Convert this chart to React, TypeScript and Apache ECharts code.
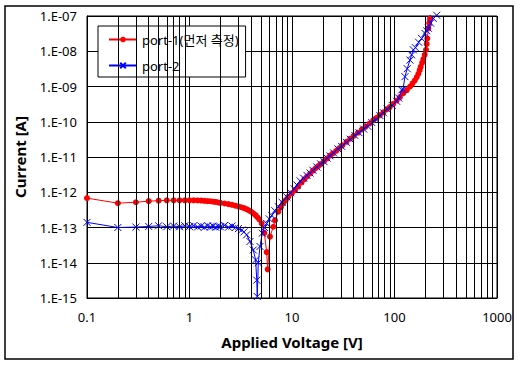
import React, { useEffect, useRef } from "react";
import * as echarts from "echarts";

// Tick labels
const xTickLabels = ["0.1", "1", "10", "100", "1000"];
const yTickLabels = ["1.E-15", "1.E-14", "1.E-13", "1.E-12", "1.E-11", "1.E-10", "1.E-09", "1.E-08", "1.E-07"];

// port-1 (measured first)
const port1Voltage = [
  0.1, 0.2, 0.3, 0.4, 0.5, 0.6, 0.7, 0.8, 0.9, 1.0, 1.1, 1.2, 1.3, 1.4, 1.5, 1.6, 1.7, 1.8, 1.9, 2.0,
  2.2, 2.4, 2.6, 2.8, 3.0, 3.2, 3.4, 3.6, 3.8, 4.0, 4.2, 4.4, 4.6, 4.8, 5.06, 5.37, 5.66, 5.79, 6.1,
  6.57, 6.83, 7.35, 7.8, 8.2, 8.7, 9.2, 10.0, 10.7, 11.5, 12.4, 13.2, 14, 15, 16, 17, 18, 19, 20.5, 22,
  23.5, 25, 27, 29, 31, 34, 37, 40, 44, 48, 52, 57, 62, 67, 72, 78, 84, 90, 97, 105, 113, 122, 132,
  142, 150, 158, 165, 171, 176, 180, 186, 191, 197, 203, 206, 209, 214, 218, 222,
];
const port1Current = [
  6.8e-13, 4.9e-13, 5.2e-13, 5.6e-13, 5.75e-13, 5.9e-13, 5.9e-13, 5.9e-13, 5.9e-13, 5.9e-13, 5.9e-13,
  5.85e-13, 5.8e-13, 5.7e-13, 5.6e-13, 5.55e-13, 5.4e-13, 5.3e-13, 5.15e-13, 5.0e-13, 4.8e-13, 4.6e-13,
  4.4e-13, 4.15e-13, 3.95e-13, 3.75e-13, 3.55e-13, 3.3e-13, 3.05e-13, 2.8e-13, 2.5e-13, 2.25e-13,
  1.95e-13, 1.7e-13, 1.3e-13, 7e-14, 2.0e-14, 6.5e-15, 5.5e-14, 1.05e-13, 1.6e-13, 2.8e-13, 3.8e-13,
  4.9e-13, 6.0e-13, 7.4e-13, 9.5e-13, 1.15e-12, 1.45e-12, 1.9e-12, 2.35e-12, 2.8e-12, 3.4e-12, 4.1e-12,
  4.8e-12, 5.5e-12, 6.3e-12, 7.6e-12, 9.1e-12, 1.1e-11, 1.26e-11, 1.5e-11, 1.8e-11, 2.15e-11, 2.7e-11,
  3.3e-11, 4.0e-11, 4.9e-11, 6.0e-11, 7.2e-11, 8.9e-11, 1.1e-10, 1.3e-10, 1.55e-10, 1.85e-10, 2.25e-10,
  2.6e-10, 3.2e-10, 4.0e-10, 5.0e-10, 6.5e-10, 7.9e-10, 1.0e-9, 1.23e-9, 1.5e-9, 1.85e-9, 2.3e-9,
  2.9e-9, 3.6e-9, 4.7e-9, 6.0e-9, 7.9e-9, 1.1e-8, 1.6e-8, 2.3e-8, 4.5e-8, 6.3e-8, 8.5e-8,
];

// port-2
const port2Voltage = [
  0.1, 0.2, 0.3, 0.4, 0.5, 0.6, 0.7, 0.8, 0.9, 1.0, 1.1, 1.2, 1.3, 1.4, 1.5, 1.6, 1.7, 1.8, 1.9, 2.0,
  2.2, 2.4, 2.6, 2.8, 3.0, 3.23, 3.4, 3.61, 3.89, 4.19, 4.42, 4.53, 4.58, 4.69, 4.87, 5.13, 5.4, 5.66,
  6.0, 6.34, 6.8, 7.35, 8.0, 8.9, 9.7, 10.5, 11.2, 12, 13, 14, 15, 16, 17.5, 19, 20.5, 22, 23.5, 25.5,
  28, 30.5, 34, 37, 41, 45, 50, 55, 60, 66, 72, 78, 85, 95, 105, 110, 117.5, 121, 126.5, 133, 141.6,
  147, 152.5, 160, 172, 184, 198.5, 206, 214, 225, 239, 258,
];
const port2Current = [
  1.4e-13, 1.0e-13, 1.03e-13, 1.07e-13, 1.12e-13, 1.05e-13, 1.1e-13, 1.05e-13, 1.12e-13, 1.06e-13,
  1.13e-13, 1.04e-13, 1.1e-13, 1.02e-13, 1.12e-13, 1.04e-13, 1.1e-13, 1.02e-13, 1.08e-13, 1.05e-13,
  1.15e-13, 1.02e-13, 1.1e-13, 1.0e-13, 9.3e-14, 8.5e-14, 7.5e-14, 6.2e-14, 4.0e-14, 2.3e-14, 1.2e-14,
  3.2e-15, 1.1e-15, 1.0e-14, 2.9e-14, 6.9e-14, 1.0e-13, 1.3e-13, 1.75e-13, 2.2e-13, 3.0e-13, 3.9e-13,
  5.2e-13, 7.4e-13, 9.6e-13, 1.25e-12, 1.6e-12, 2.1e-12, 2.5e-12, 3.0e-12, 3.5e-12, 4.2e-12, 5.2e-12,
  6.4e-12, 7.4e-12, 9.3e-12, 1.08e-11, 1.3e-11, 1.7e-11, 2.0e-11, 2.6e-11, 3.2e-11, 4.1e-11, 4.9e-11,
  6.2e-11, 7.4e-11, 9.5e-11, 1.15e-10, 1.5e-10, 1.8e-10, 2.3e-10, 2.9e-10, 3.8e-10, 4.7e-10, 8e-10,
  8.3e-10, 1.9e-9, 3.2e-9, 5.6e-9, 7.9e-9, 1.1e-8, 1.26e-8, 1.8e-8, 2.3e-8, 3.2e-8, 3.8e-8, 4.5e-8,
  6.3e-8, 8.5e-8, 1.05e-7,
];

const seriesNames = ["port-1(먼저 측정)", "port-2"];

const FONT = '"Noto Sans", "Noto Sans CJK KR", sans-serif';

export default function App() {
  const ref = useRef<HTMLDivElement>(null);

  useEffect(() => {
    if (!ref.current) return;
    const chart = echarts.init(ref.current, undefined, { renderer: "svg" });

    // minor vertical grid lines at 2..9 of every decade (axis structure)
    const minorX: number[] = [];
    for (let d = -1; d < 3; d++) {
      for (let k = 2; k <= 9; k++) minorX.push(k * Math.pow(10, d));
    }

    const p1 = port1Voltage.map((v, i) => [v, port1Current[i]]);
    const p2 = port2Voltage.map((v, i) => [v, port2Current[i]]);

    chart.setOption({
      animation: false,
      backgroundColor: "#ffffff",
      grid: {
        left: 87,
        top: 16,
        width: 410,
        height: 282,
        show: true,
        borderColor: "#000",
        borderWidth: 1,
        backgroundColor: "transparent",
      },
      legend: {
        data: seriesNames,
        orient: "vertical",
        left: 98,
        top: 26,
        itemWidth: 28,
        itemHeight: 7,
        itemGap: 13,
        padding: [7, 7, 5, 10],
        backgroundColor: "#fff",
        borderColor: "#000",
        borderWidth: 1,
        borderRadius: 0,
        textStyle: { fontFamily: FONT, fontSize: 13, color: "#000" },
      },
      xAxis: {
        type: "log",
        logBase: 10,
        min: 0.1,
        max: 1000,
        splitNumber: 4,
        name: "Applied Voltage [V]",
        nameLocation: "middle",
        nameGap: 36,
        nameTextStyle: { fontFamily: FONT, fontSize: 15, fontWeight: "bold", color: "#000" },
        axisLine: { show: true, lineStyle: { color: "#000", width: 1 } },
        axisTick: { show: false },
        axisLabel: {
          margin: 12,
          fontFamily: FONT,
          fontSize: 13,
          color: "#000",
          formatter: (v: number) => xTickLabels[Math.round(Math.log10(v)) + 1] ?? "",
        },
        splitLine: { show: true, lineStyle: { color: "#000", width: 1 } },
      },
      yAxis: {
        type: "log",
        logBase: 10,
        min: 1e-15,
        max: 1e-7,
        splitNumber: 8,
        name: "Current [A]",
        nameLocation: "middle",
        nameGap: 60,
        nameTextStyle: { fontFamily: FONT, fontSize: 15, fontWeight: "bold", color: "#000" },
        axisLine: { show: true, lineStyle: { color: "#000", width: 1 } },
        axisTick: { show: false },
        axisLabel: {
          margin: 10,
          fontFamily: FONT,
          fontSize: 13,
          color: "#000",
          formatter: (v: number) => yTickLabels[Math.round(Math.log10(v)) + 15] ?? "",
        },
        splitLine: { show: true, lineStyle: { color: "#000", width: 1 } },
      },
      graphic: [
        {
          type: "rect",
          shape: { x: 5, y: 6, width: 508, height: 353 },
          style: { fill: "none", stroke: "#000", lineWidth: 1.5 },
          z: 100,
          silent: true,
        },
      ],
      series: [
        {
          name: "__grid",
          type: "line",
          data: [],
          silent: true,
          z: 1,
          markLine: {
            silent: true,
            symbol: "none",
            label: { show: false },
            lineStyle: { color: "#000", width: 1, type: "solid" },
            data: minorX.map((x) => ({ xAxis: x })),
          },
        },
        {
          name: seriesNames[0],
          type: "line",
          data: p1,
          z: 3,
          clip: false,
          symbol: "circle",
          symbolSize: 6,
          lineStyle: { color: "#ff0000", width: 1 },
          itemStyle: { color: "#ff0000" },
        },
        {
          name: seriesNames[1],
          type: "line",
          data: p2,
          z: 4,
          clip: false,
          symbol: "path://M0,0L10,10M10,0L0,10",
          symbolSize: 7,
          lineStyle: { color: "#0000ff", width: 1 },
          itemStyle: { color: "#0000ff", borderColor: "#0000ff", borderWidth: 1 },
        },
      ],
    });

    return () => chart.dispose();
  }, []);

  return (
    <div
      ref={ref}
      style={{ position: "fixed", left: 0, top: 0, width: 520, height: 365, background: "#fff" }}
    />
  );
}
